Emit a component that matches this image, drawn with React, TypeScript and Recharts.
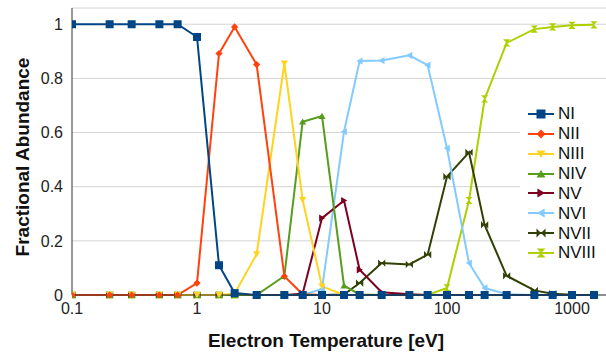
import React from "react";
import { LineChart, Line, XAxis, YAxis, CartesianGrid, Legend } from "recharts";

const temps = [0.1, 0.2, 0.3, 0.5, 0.7, 1, 1.5, 2, 3, 5, 7, 10, 15, 20, 30, 50, 70, 100, 150, 200, 300, 500, 700, 1000, 1500];

const nI = [1, 1, 1, 1, 1, 0.953, 0.11, 0.007, 0, 0, 0, 0, 0, 0, 0, 0, 0, 0, 0, 0, 0, 0, 0, 0, 0];
const nII = [0, 0, 0, 0, 0, 0.044, 0.892, 0.99, 0.851, 0.069, 0.003, 0, 0, 0, 0, 0, 0, 0, 0, 0, 0, 0, 0, 0, 0];
const nIII = [0, 0, 0, 0, 0, 0, 0, 0.005, 0.151, 0.855, 0.351, 0.032, 0, 0, 0, 0, 0, 0, 0, 0, 0, 0, 0, 0, 0];
const nIV = [0, 0, 0, 0, 0, 0, 0, 0, 0, 0.07, 0.64, 0.661, 0.035, 0.002, 0, 0, 0, 0, 0, 0, 0, 0, 0, 0, 0];
const nV = [0, 0, 0, 0, 0, 0, 0, 0, 0, 0, 0.005, 0.284, 0.349, 0.093, 0.01, 0.003, 0, 0, 0, 0, 0, 0, 0, 0, 0];
const nVI = [0, 0, 0, 0, 0, 0, 0, 0, 0, 0, 0, 0.022, 0.603, 0.864, 0.866, 0.885, 0.849, 0.542, 0.118, 0.026, 0.003, 0, 0, 0, 0];
const nVII = [0, 0, 0, 0, 0, 0, 0, 0, 0, 0, 0, 0, 0.002, 0.044, 0.118, 0.113, 0.149, 0.437, 0.527, 0.259, 0.071, 0.017, 0.005, 0.001, 0];
const nVIII = [0, 0, 0, 0, 0, 0, 0, 0, 0, 0, 0, 0, 0, 0, 0, 0, 0, 0.026, 0.349, 0.724, 0.931, 0.982, 0.99, 0.996, 0.998];

const xTicks = [0.1, 1, 10, 100, 1000];
const yTicks = [0, 0.2, 0.4, 0.6, 0.8, 1];

const seriesNames = ["NI", "NII", "NIII", "NIV", "NV", "NVI", "NVII", "NVIII"];
const seriesValues = [nI, nII, nIII, nIV, nV, nVI, nVII, nVIII];
const seriesColors = ["#004586", "#ff420e", "#ffd320", "#579d1c", "#7e0021", "#83caff", "#314004", "#aecf00"];
const seriesShapes = ["square", "diamond", "down", "up", "right", "left", "bowtie", "hourglass"];

const data = temps.map((t, i) => {
  const row: any = { t };
  seriesNames.forEach((n, k) => {
    row[n] = seriesValues[k][i];
  });
  return row;
});

const FONT = "'Liberation Sans', Arial, sans-serif";

function markerEl(shape: string, cx: number, cy: number, color: string, s: number, key?: string) {
  const p = (pts: number[][]) => pts.map((q) => q.join(",")).join(" ");
  switch (shape) {
    case "square":
      return <rect key={key} x={cx - s} y={cy - s} width={2 * s} height={2 * s} fill={color} />;
    case "diamond":
      return <polygon key={key} points={p([[cx, cy - s], [cx + s, cy], [cx, cy + s], [cx - s, cy]])} fill={color} />;
    case "down":
      return <polygon key={key} points={p([[cx - s, cy - s * 0.8], [cx + s, cy - s * 0.8], [cx, cy + s * 0.9]])} fill={color} />;
    case "up":
      return <polygon key={key} points={p([[cx - s, cy + s * 0.8], [cx + s, cy + s * 0.8], [cx, cy - s * 0.9]])} fill={color} />;
    case "right":
      return <polygon key={key} points={p([[cx - s * 0.8, cy - s], [cx - s * 0.8, cy + s], [cx + s * 0.9, cy]])} fill={color} />;
    case "left":
      return <polygon key={key} points={p([[cx + s * 0.8, cy - s], [cx + s * 0.8, cy + s], [cx - s * 0.9, cy]])} fill={color} />;
    case "bowtie":
      return (
        <g key={key}>
          <polygon points={p([[cx - s, cy - s], [cx, cy], [cx - s, cy + s]])} fill={color} />
          <polygon points={p([[cx + s, cy - s], [cx, cy], [cx + s, cy + s]])} fill={color} />
        </g>
      );
    default:
      return (
        <g key={key}>
          <polygon points={p([[cx - s, cy - s], [cx + s, cy - s], [cx, cy]])} fill={color} />
          <polygon points={p([[cx - s, cy + s], [cx + s, cy + s], [cx, cy]])} fill={color} />
        </g>
      );
  }
}

const LegendContent = () => (
  <div style={{ background: "#fff", padding: "0 4px 2px 8px", fontFamily: FONT }}>
    {seriesNames.map((n, k) => (
      <div key={n} style={{ display: "flex", alignItems: "center", height: 19.86 }}>
        <svg width={26} height={16} style={{ display: "block" }}>
          <line x1={0} y1={8} x2={26} y2={8} stroke={seriesColors[k]} strokeWidth={2} />
          {markerEl(seriesShapes[k], 13, 8, seriesColors[k], 4.5)}
        </svg>
        <span style={{ marginLeft: 4, fontSize: 17, color: "#111", lineHeight: "19px" }}>{n}</span>
      </div>
    ))}
  </div>
);

const fmt = (v: number) => (v < 1 ? v.toFixed(1) : String(v));

export default function App() {
  const order = [7, 6, 5, 4, 3, 2, 1, 0];
  return (
    <div style={{ position: "absolute", left: 0, top: 0, width: 606, height: 352, background: "#fff" }}>
      <LineChart width={606} height={352} data={data} margin={{ top: 8, right: 0, bottom: 0, left: 0 }}>
        <CartesianGrid horizontal={true} vertical={false} stroke="#d4d4d4" strokeWidth={1} />
        <XAxis
          dataKey="t"
          type="number"
          scale="log"
          domain={[0.1, 1871]}
          ticks={xTicks}
          tickFormatter={fmt}
          allowDataOverflow
          height={57}
          tickLine={false}
          tickSize={0}
          tickMargin={8}
          stroke="#333"
          tick={{ fill: "#222", fontSize: 16, fontFamily: FONT }}
          label={{
            content: () => (
              <text x={326} y={347} textAnchor="middle" fontFamily={FONT} fontSize={19} fontWeight="bold" fill="#111">
                Electron Temperature [eV]
              </text>
            ),
          }}
        />
        <YAxis
          type="number"
          domain={[0, 1.06]}
          ticks={yTicks}
          width={72}
          tickLine={false}
          tickSize={0}
          tickMargin={9}
          stroke="#333"
          tick={{ fill: "#222", fontSize: 16, fontFamily: FONT }}
          label={{
            content: () => (
              <text x={22} y={157} transform="rotate(-90 22 157)" textAnchor="middle" dominantBaseline="central" fontFamily={FONT} fontSize={19} fontWeight="bold" fill="#111">
                Fractional Abundance
              </text>
            ),
          }}
        />
        <Legend
          layout="vertical"
          verticalAlign="middle"
          align="center"
          content={<LegendContent />}
          wrapperStyle={{ position: "absolute", left: 520, top: 104, width: 86, right: "auto", bottom: "auto" }}
        />
        {order.map((k) => (
          <Line
            key={seriesNames[k]}
            dataKey={seriesNames[k]}
            name={seriesNames[k]}
            stroke={seriesColors[k]}
            strokeWidth={2}
            isAnimationActive={false}
            dot={(props: any) =>
              markerEl(seriesShapes[k], props.cx, props.cy, seriesColors[k], seriesShapes[k] === "square" ? 4 : 3.6, `${seriesNames[k]}-${props.index}`)
            }
            activeDot={false}
          />
        ))}
      </LineChart>
    </div>
  );
}
